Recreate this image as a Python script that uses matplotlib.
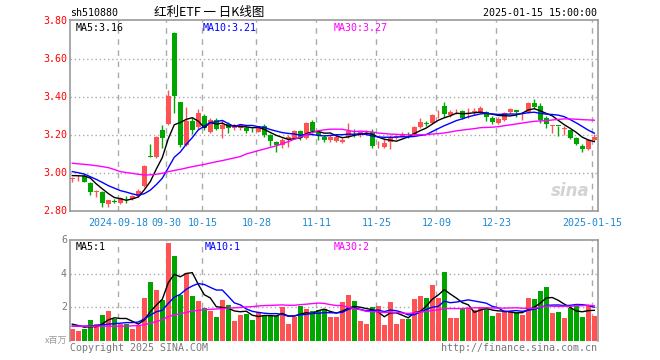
import numpy as np
import pandas as pd
from matplotlib import pyplot as plt

# daily candles, 2024-09-04 .. 2025-01-15 (88 trading days)
opens = [2.972, 2.978, 2.986, 2.951, 2.900, 2.902, 2.839, 2.853, 2.842, 2.865,
         2.865, 2.881, 2.935, 3.090, 3.084, 3.228, 3.260, 3.740, 3.375, 3.149,
         3.275, 3.246, 3.302, 3.219, 3.281, 3.232, 3.258, 3.237, 3.237, 3.240,
         3.233, 3.219, 3.251, 3.202, 3.165, 3.149, 3.181, 3.188, 3.223, 3.188,
         3.269, 3.216, 3.193, 3.176, 3.172, 3.167, 3.193, 3.220, 3.202, 3.216,
         3.219, 3.147, 3.140, 3.163, 3.190, 3.193, 3.212, 3.202, 3.246, 3.265,
         3.263, 3.305, 3.354, 3.307, 3.326, 3.328, 3.314, 3.323, 3.325, 3.321,
         3.290, 3.267, 3.281, 3.321, 3.333, 3.314, 3.325, 3.369, 3.356, 3.290,
         3.250, 3.251, 3.233, 3.228, 3.188, 3.146, 3.128, 3.176]
highs = [2.982, 2.990, 2.996, 2.956, 2.912, 2.905, 2.862, 2.863, 2.877, 2.880,
         2.886, 2.916, 3.046, 3.154, 3.196, 3.254, 3.439, 3.745, 3.375, 3.347,
         3.289, 3.337, 3.311, 3.289, 3.289, 3.281, 3.272, 3.260, 3.262, 3.248,
         3.240, 3.250, 3.258, 3.205, 3.168, 3.184, 3.202, 3.228, 3.228, 3.269,
         3.283, 3.219, 3.202, 3.202, 3.200, 3.184, 3.263, 3.233, 3.223, 3.228,
         3.233, 3.170, 3.184, 3.202, 3.202, 3.219, 3.219, 3.251, 3.290, 3.276,
         3.311, 3.333, 3.377, 3.333, 3.339, 3.333, 3.342, 3.342, 3.356, 3.328,
         3.304, 3.298, 3.325, 3.342, 3.333, 3.325, 3.374, 3.391, 3.369, 3.304,
         3.254, 3.251, 3.251, 3.230, 3.190, 3.156, 3.179, 3.206]
lows = [2.955, 2.962, 2.953, 2.886, 2.877, 2.825, 2.825, 2.842, 2.838, 2.846,
        2.860, 2.877, 2.930, 3.085, 3.079, 3.132, 3.254, 3.319, 3.140, 3.144,
        3.205, 3.232, 3.228, 3.211, 3.226, 3.184, 3.211, 3.230, 3.230, 3.214,
        3.218, 3.215, 3.193, 3.146, 3.114, 3.135, 3.140, 3.181, 3.176, 3.181,
        3.211, 3.176, 3.163, 3.163, 3.163, 3.158, 3.184, 3.193, 3.193, 3.202,
        3.135, 3.132, 3.132, 3.128, 3.180, 3.190, 3.184, 3.198, 3.237, 3.250,
        3.258, 3.290, 3.298, 3.298, 3.310, 3.286, 3.290, 3.307, 3.316, 3.276,
        3.258, 3.258, 3.276, 3.316, 3.298, 3.281, 3.316, 3.342, 3.263, 3.240,
        3.211, 3.198, 3.202, 3.181, 3.149, 3.111, 3.125, 3.170]
closes = [2.975, 2.982, 2.956, 2.903, 2.905, 2.846, 2.858, 2.851, 2.872, 2.863,
          2.882, 2.909, 3.040, 3.088, 3.193, 3.184, 3.407, 3.407, 3.147, 3.275,
          3.228, 3.316, 3.237, 3.281, 3.233, 3.254, 3.237, 3.253, 3.253, 3.225,
          3.231, 3.247, 3.202, 3.170, 3.149, 3.176, 3.193, 3.223, 3.188, 3.265,
          3.225, 3.202, 3.176, 3.193, 3.190, 3.176, 3.223, 3.218, 3.219, 3.220,
          3.146, 3.151, 3.161, 3.193, 3.194, 3.202, 3.210, 3.246, 3.272, 3.262,
          3.307, 3.309, 3.311, 3.325, 3.330, 3.293, 3.318, 3.327, 3.342, 3.298,
          3.272, 3.284, 3.319, 3.337, 3.325, 3.318, 3.369, 3.351, 3.281, 3.258,
          3.254, 3.249, 3.237, 3.184, 3.153, 3.128, 3.176, 3.193]
# volume in millions (x百万)
volumes = [0.70, 0.58, 0.70, 1.23, 1.03, 1.53, 1.77, 1.33, 1.03, 1.03,
           0.70, 0.93, 2.54, 3.48, 3.02, 2.43, 5.85, 5.05, 2.72, 4.02,
           2.66, 2.37, 1.97, 1.77, 1.43, 2.43, 2.13, 1.17, 1.53, 1.59,
           1.24, 1.74, 1.48, 1.48, 1.48, 2.00, 1.00, 1.44, 2.08, 1.88,
           1.78, 1.84, 1.88, 1.40, 1.40, 2.34, 2.74, 2.38, 1.18, 1.00,
           2.00, 2.08, 0.94, 2.34, 1.00, 1.30, 1.30, 2.50, 2.68, 2.58,
           3.34, 2.58, 4.08, 1.38, 1.38, 1.98, 1.94, 1.84, 2.04, 1.90,
           1.48, 1.68, 1.78, 1.78, 1.64, 1.54, 2.58, 2.50, 2.98, 3.18,
           1.68, 1.74, 1.38, 1.98, 2.14, 1.44, 2.08, 1.48]

ma5_head = [2.988, 2.987, 2.986, 2.975]
ma10_head = [3.009, 3.003, 2.996, 2.982, 2.968, 2.952, 2.935, 2.922, 2.909]
ma30_head = [3.053, 3.050, 3.047, 3.044, 3.040, 3.035, 3.030, 3.020, 3.009, 3.004,
             3.000, 2.995, 2.991, 2.992, 2.995, 3.000, 3.009, 3.015, 3.021, 3.028,
             3.035, 3.041, 3.047, 3.054, 3.061, 3.067, 3.074, 3.081, 3.088]
vma5_head = [1.00, 0.92, 0.82, 0.85]
vma10_head = [0.88, 0.88, 0.88, 0.90, 0.92, 0.95, 1.00, 1.03, 1.06]
vma30_head = [0.88, 0.88, 0.88, 0.88, 0.88, 0.88, 0.88, 0.88, 0.88, 0.88,
              0.90, 0.92, 0.97, 1.05, 1.15, 1.27, 1.45, 1.55, 1.62, 1.70,
              1.78, 1.82, 1.86, 1.88, 1.90, 1.93, 1.95, 1.97, 1.99]

tick_idx = [8, 16, 22, 31, 41, 51, 61, 71, 87]
tick_labels = ['2024-09-18', '09-30', '10-15', '10-28', '11-11', '11-25', '12-09', '12-23', '2025-01-15']


def moving(values, n, head):
    s = pd.Series(values).rolling(n).mean().to_numpy()
    s[:len(head)] = head
    return s


RED = '#FF5252'
GREEN = '#00A600'
GRID = '#AAAAAA'
MONO = 'DejaVu Sans Mono'

o = np.array(opens); h = np.array(highs); l = np.array(lows); c = np.array(closes)
v = np.array(volumes)
x = np.arange(len(c))
up = c >= o
cols = np.where(up, RED, GREEN)

fig = plt.figure(figsize=(6.6, 3.6), dpi=100)
ax = fig.add_axes([70 / 660, 1 - 211.3 / 360, 527.7 / 660, 191.3 / 360])
axv = fig.add_axes([70 / 660, 1 - 341 / 360, 527.7 / 660, 101 / 360])

xl = (-0.383, 87.57)
for a in (ax, axv):
    a.set_xlim(*xl)
    for s in a.spines.values():
        s.set_color('#999999')
        s.set_linewidth(1.2)
    a.set_xticks([])
    a.set_yticks([])
    for t in tick_idx:
        a.axvline(t - 0.33, color=GRID, lw=1, ls=(0, (4, 4)), zorder=0)
axv.spines['bottom'].set_visible(False)

# price panel
ax.set_ylim(2.8, 3.807)
for yv in [3.0, 3.2, 3.4, 3.6]:
    ax.axhline(yv, color=GRID, lw=1, ls=(0, (1, 2)), zorder=0)
ax.vlines(x, l, h, color=cols, lw=1, zorder=2)
body = np.maximum(np.abs(c - o), 0.003)
ax.bar(x, body, bottom=np.minimum(o, c), width=0.75, color=cols, zorder=3, linewidth=0)
ax.plot(x, moving(closes, 5, ma5_head), color='black', lw=1, zorder=4)
ax.plot(x, moving(closes, 10, ma10_head), color='#0000FF', lw=1, zorder=4)
ax.plot(x, moving(closes, 30, ma30_head), color='#FF00FF', lw=1, zorder=4)

for yv in [2.8, 3.0, 3.2, 3.4, 3.6, 3.8]:
    ax.text(-0.9, yv, '%.2f' % yv, color='#FF0000', ha='right', va='center',
            fontsize=7.2, family=MONO, transform=ax.transData, clip_on=False)
for t, lab in zip(tick_idx, tick_labels):
    ax.text(t - 0.33, 2.8 - 0.035, lab, color='#1E88D0', ha='center', va='top',
            fontsize=7.2, family=MONO, clip_on=False)

ax.text(0.01, 0.985, 'MA5:3.16', color='black', transform=ax.transAxes, ha='left', va='top',
        fontsize=7.2, family=MONO)
ax.text(0.252, 0.985, 'MA10:3.21', color='#0000FF', transform=ax.transAxes, ha='left', va='top',
        fontsize=7.2, family=MONO)
ax.text(0.5, 0.985, 'MA30:3.27', color='#FF00FF', transform=ax.transAxes, ha='left', va='top',
        fontsize=7.2, family=MONO)
ax.text(0.985, 0.06, 'sina', color='#C8C8C8', transform=ax.transAxes, ha='right', va='bottom',
        fontsize=12, fontweight='bold', style='italic', alpha=0.8)

# volume panel
axv.set_ylim(0, 6)
for yv in [2, 4]:
    axv.axhline(yv, color=GRID, lw=1, ls=(0, (1, 2)), zorder=0)
axv.bar(x, v, width=0.8, color=cols, linewidth=0, zorder=2)
axv.plot(x, moving(volumes, 5, vma5_head), color='black', lw=1, zorder=3)
axv.plot(x, moving(volumes, 10, vma10_head), color='#0000FF', lw=1, zorder=3)
axv.plot(x, moving(volumes, 30, vma30_head), color='#FF00FF', lw=1, zorder=3)
for yv in [2, 4, 6]:
    axv.text(-0.9, yv, str(yv), color='#777777', ha='right', va='center',
             fontsize=7.2, family=MONO, clip_on=False)
axv.text(-0.9, 0.05, 'x百万', color='#999999', ha='right', va='center', fontsize=6.5,
         family=['Noto Sans CJK SC', 'DejaVu Sans'], clip_on=False)
axv.text(0.01, 0.985, 'MA5:1', color='black', transform=axv.transAxes, ha='left', va='top',
         fontsize=7.2, family=MONO)
axv.text(0.255, 0.985, 'MA10:1', color='#0000FF', transform=axv.transAxes, ha='left', va='top',
         fontsize=7.2, family=MONO)
axv.text(0.5, 0.985, 'MA30:2', color='#FF00FF', transform=axv.transAxes, ha='left', va='top',
         fontsize=7.2, family=MONO)

# header and footer
fig.text(70 / 660, 1 - 13 / 360, 'sh510880', ha='left', va='center', fontsize=7.2, family=MONO)
fig.text(209 / 660, 1 - 12 / 360, '红利ETF 一 日K线图', ha='center', va='center', fontsize=9,
         family=['Noto Sans CJK SC', 'DejaVu Sans'])
fig.text(597 / 660, 1 - 13 / 360, '2025-01-15 15:00:00', ha='right', va='center', fontsize=7.2,
         family=MONO)
fig.text(70 / 660, 1 - 348 / 360, 'Copyright 2025 SINA.COM', ha='left', va='center', fontsize=7.2,
         family=MONO, color='#777777')
fig.text(597 / 660, 1 - 348 / 360, 'http://finance.sina.com.cn', ha='right', va='center',
         fontsize=7.2, family=MONO, color='#777777')

fig.savefig('out.png', dpi=100)
